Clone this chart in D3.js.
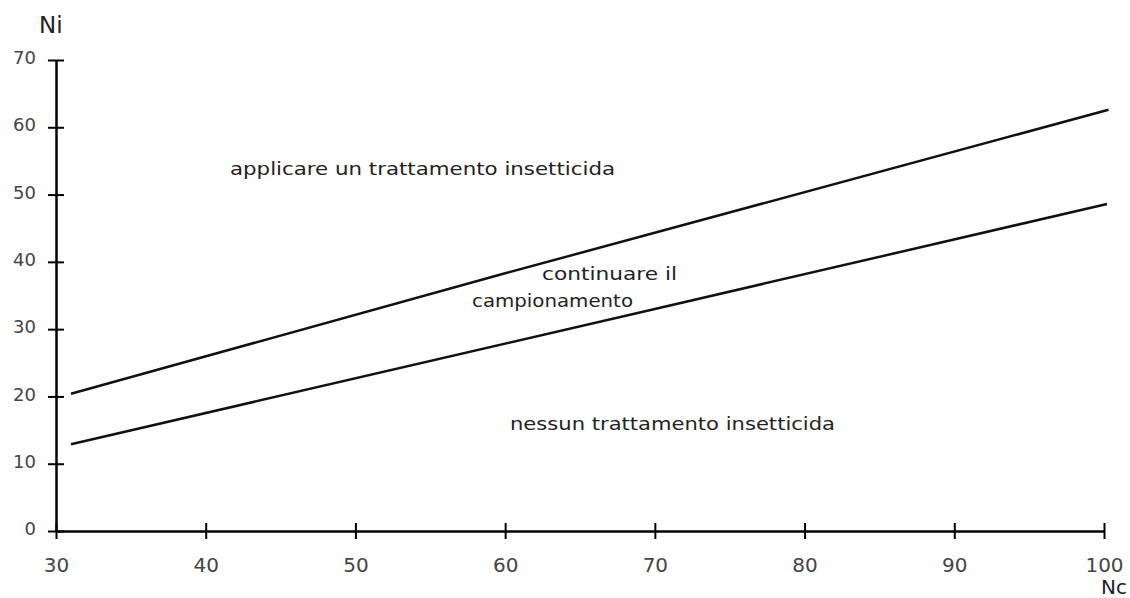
<!DOCTYPE html>
<html>
<head>
<meta charset="utf-8">
<script src="https://cdn.jsdelivr.net/npm/d3@7"></script>
<style>
  body { margin: 0; background: #fff; }
  svg { display: block; }
  .tick text { fill: #444; font-family: "DejaVu Sans", sans-serif; }
  .note { fill: #222; font-family: "DejaVu Sans", sans-serif; }
</style>
</head>
<body>
<div id="chart"></div>
<script>
// tick values
var xTicks = [30, 40, 50, 60, 70, 80, 90, 100];
var yTicks = [0, 10, 20, 30, 40, 50, 60, 70];

// the two decision lines
var upperNc = [31, 60, 100.3];
var upperNi = [20.4, 38.3, 62.6];
var lowerNc = [31, 70, 100.2];
var lowerNi = [12.9, 33.0, 48.6];

var width = 1130, height = 598;
var margin = { top: 60, right: 26, bottom: 67, left: 56 };

var x = d3.scaleLinear().domain([30, 100]).range([margin.left, width - margin.right]);
var y = d3.scaleLinear().domain([0, 70]).range([height - margin.bottom, margin.top]);

var svg = d3.select("#chart").append("svg")
  .attr("width", width)
  .attr("height", height);

// x axis, ticks cross the line
var xAxis = svg.append("g")
  .attr("transform", "translate(0," + y(0) + ")")
  .call(d3.axisBottom(x).tickValues(xTicks).tickSize(8).tickPadding(19).tickSizeOuter(0));
xAxis.selectAll(".tick line").attr("y1", -8).attr("stroke-width", 2);
xAxis.select(".domain").attr("stroke-width", 2.5);
xAxis.selectAll(".tick text").style("font-size", "20px");

var yAxis = svg.append("g")
  .attr("transform", "translate(" + x(30) + ",0)")
  .call(d3.axisLeft(y).tickValues(yTicks).tickSize(8).tickPadding(12).tickSizeOuter(0));
yAxis.selectAll(".tick line").attr("x1", 8).attr("stroke-width", 2);
yAxis.select(".domain").attr("stroke-width", 2.5);
yAxis.selectAll(".tick text").style("font-size", "18px").attr("dy", "0.2em");

// axis names
svg.append("text").attr("class", "note")
  .attr("x", 39).attr("y", 33)
  .style("font-size", "23px")
  .text("Ni");
svg.append("text").attr("class", "note")
  .attr("x", 1127).attr("y", 594)
  .attr("text-anchor", "end")
  .style("font-size", "20px")
  .text("Nc");

// the lines
var line = d3.line()
  .x(function(d) { return x(d[0]); })
  .y(function(d) { return y(d[1]); });

svg.append("path")
  .datum(d3.zip(upperNc, upperNi))
  .attr("d", line)
  .attr("fill", "none").attr("stroke", "#111").attr("stroke-width", 2.5);

svg.append("path")
  .datum(d3.zip(lowerNc, lowerNi))
  .attr("d", line)
  .attr("fill", "none").attr("stroke", "#111").attr("stroke-width", 2.5);

// zone labels
function note(txt, px, py, len) {
  svg.append("text").attr("class", "note")
    .attr("x", px).attr("y", py)
    .style("font-size", "18px")
    .attr("textLength", len).attr("lengthAdjust", "spacingAndGlyphs")
    .text(txt);
}
note("applicare un trattamento insetticida", 230, 175, 385);
note("continuare il", 542, 280, 135);
note("campionamento", 472, 307, 161);
note("nessun trattamento insetticida", 510, 430, 325);
</script>
</body>
</html>
